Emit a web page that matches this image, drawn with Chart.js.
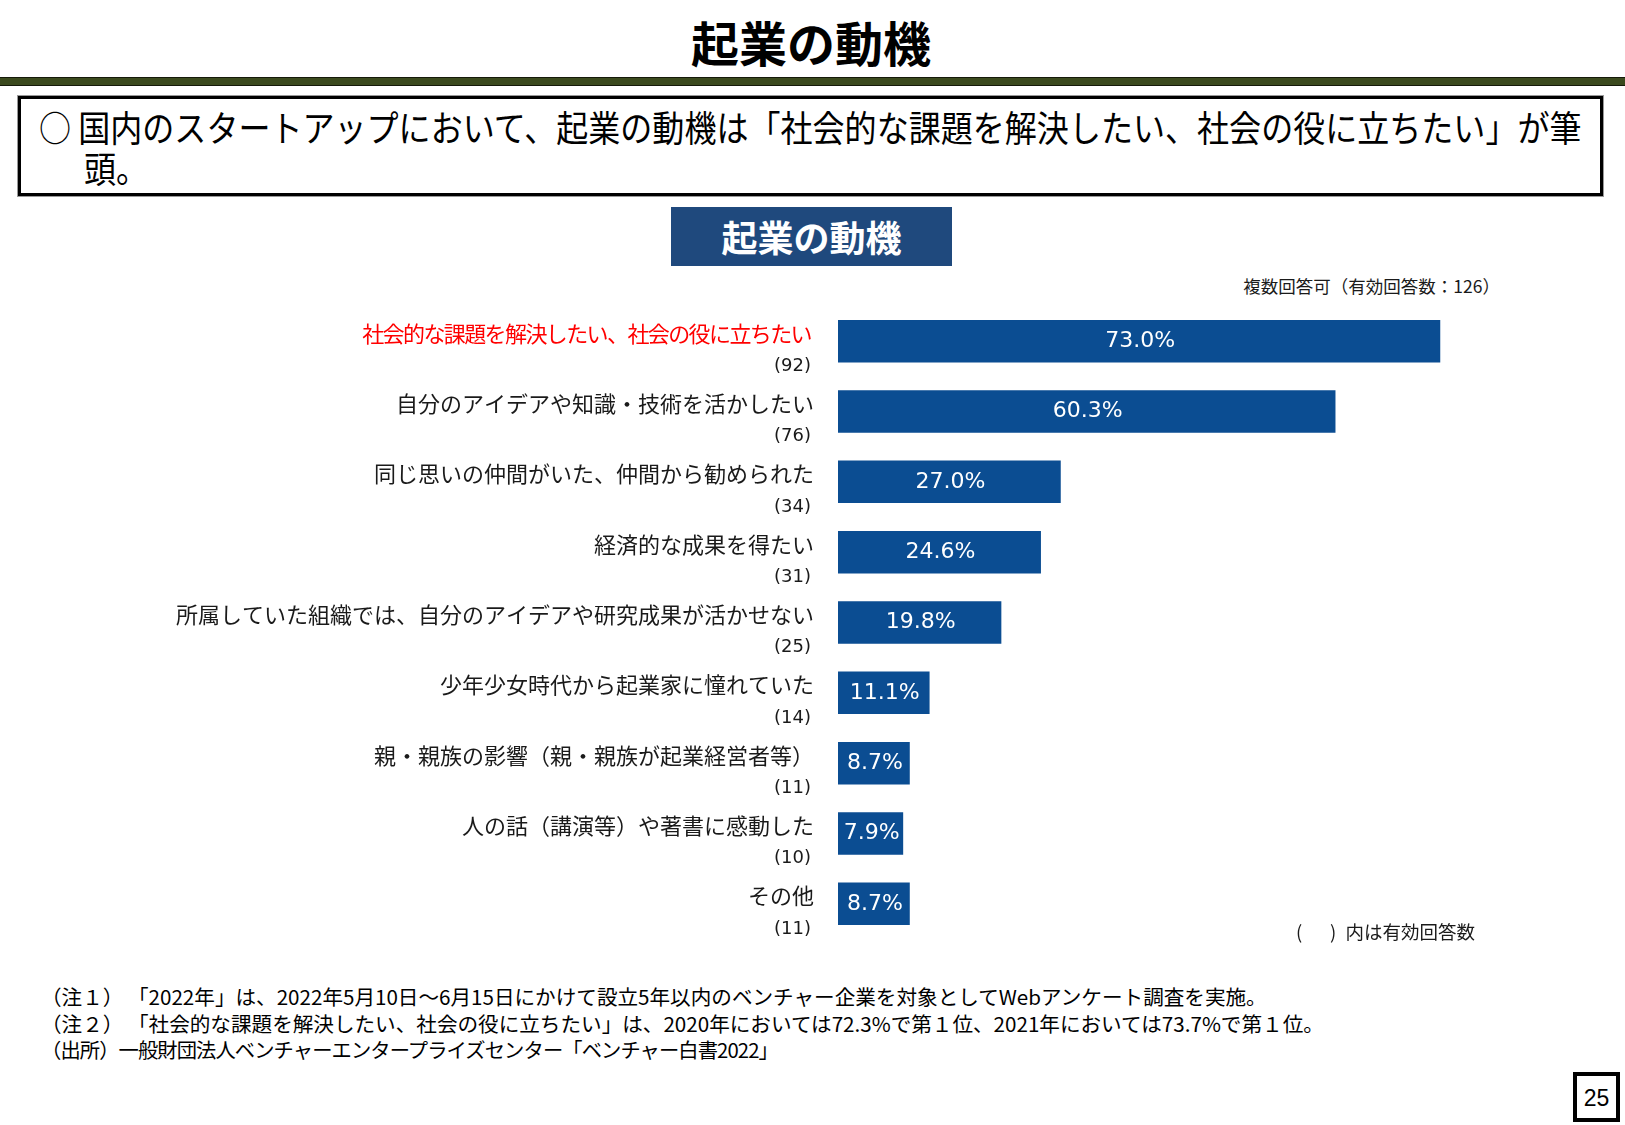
<!DOCTYPE html>
<html lang="ja">
<head>
<meta charset="UTF-8">
<title>起業の動機</title>
<script src="https://cdn.jsdelivr.net/npm/chart.js@4.4.0/dist/chart.umd.min.js"></script>
<style>
    body {
        margin: 0;
        background: #fff;
        font-family: 'Noto Sans CJK JP', 'Noto Sans', sans-serif;
        color: #1a1a1a;
    }
    #page {
        position: relative;
        width: 1625px;
        height: 1125px;
        overflow: hidden;
    }
    .abs { position: absolute; white-space: nowrap; }
    #title {
        left: 0; width: 1622px; top: 9px;
        text-align: center;
        font-size: 48px; font-weight: bold; line-height: 64px;
        color: #000;
    }
    #rule {
        left: 0; top: 77px; width: 1625px; height: 7px;
        background: #3b4a1e;
        border-top: 1px solid #151a0a;
        border-bottom: 1px solid #151a0a;
    }
    #lead {
        left: 18px; top: 96px; width: 1579px; height: 94px;
        border: 3px solid #000;
        box-shadow: 0 0 0 1px #999;
        font-size: 36px; line-height: 42px; color: #000;
    }
    #lead span {
        position: absolute;
        transform: scaleX(0.89);
        transform-origin: left center;
    }
    #lead .l1 { left: 18px; top: 6px; }
    #lead .l2 { left: 63px; top: 47px; }
    #subtitle {
        left: 671px; top: 207px; width: 281px; height: 59px;
        background: #1f497d; color: #fff;
        font-size: 36px; font-weight: bold;
        text-align: center; line-height: 58px;
    }
    #multi {
        right: 125px; top: 274px;
        font-size: 17.5px; line-height: 24px;
    }
    #chart-box {
        left: 0; top: 296px; width: 1625px; height: 650px;
    }
    #note-count {
        right: 150px; top: 918px;
        font-size: 18.5px; line-height: 26px;
    }
    .foot {
        left: 41px;
        font-size: 20.6px; line-height: 26px; color: #000;
    }
    #pageno {
        left: 1573px; top: 1072px; width: 39px; height: 42px;
        border: 4px solid #000;
        font-family: 'Liberation Sans', Arial, sans-serif;
        font-size: 23px; line-height: 44px; text-align: center; color: #000;
    }
</style>
</head>
<body>
<div id="page">
    <div id="title" class="abs">起業の動機</div>
    <div id="rule" class="abs"></div>
    <div id="lead" class="abs">
        <span class="l1">○ 国内のスタートアップにおいて、起業の動機は「社会的な課題を解決したい、社会の役に立ちたい」が筆</span>
        <span class="l2">頭。</span>
    </div>
    <div id="subtitle" class="abs">起業の動機</div>
    <div id="multi" class="abs">複数回答可（有効回答数：126）</div>
    <div id="chart-box" class="abs"><canvas id="chart"></canvas></div>
    <div id="note-count" class="abs">(&#x3000;&#x2002;)&#x2002;内は有効回答数</div>
    <div class="abs foot" style="top:983px">（注１） 「2022年」は、2022年5月10日～6月15日にかけて設立5年以内のベンチャー企業を対象としてWebアンケート調査を実施。</div>
    <div class="abs foot" style="top:1010px">（注２） 「社会的な課題を解決したい、社会の役に立ちたい」は、2020年においては72.3%で第１位、2021年においては73.7%で第１位。</div>
    <div class="abs foot" style="top:1036px; font-size:20.3px; letter-spacing:-0.9px">（出所）一般財団法人ベンチャーエンタープライズセンター「ベンチャー白書2022」</div>
    <div id="pageno" class="abs">25</div>
</div>
<script type="text/javascript">
    // 回答項目
    const categories = [
        '社会的な課題を解決したい、社会の役に立ちたい',
        '自分のアイデアや知識・技術を活かしたい',
        '同じ思いの仲間がいた、仲間から勧められた',
        '経済的な成果を得たい',
        '所属していた組織では、自分のアイデアや研究成果が活かせない',
        '少年少女時代から起業家に憧れていた',
        '親・親族の影響（親・親族が起業経営者等）',
        '人の話（講演等）や著書に感動した',
        'その他'
    ];
    // 有効回答数
    const counts = [92, 76, 34, 31, 25, 14, 11, 10, 11];
    // 割合（%）
    const shares = [73.0, 60.3, 27.0, 24.6, 19.8, 11.1, 8.7, 7.9, 8.7];

    const FONT = "'Noto Sans CJK JP', 'Noto Sans', sans-serif";
    const NUM_FONT = "'DejaVu Sans', 'Noto Sans', sans-serif";
    const BAR_COLOR = '#0b4d92';

    const labelsPlugin = {
        id: 'sideLabels',
        afterDatasetsDraw: (chart) => {
            const {ctx} = chart;
            const yScale = chart.scales.y;
            const meta = chart.getDatasetMeta(0);
            ctx.save();
            ctx.textBaseline = 'middle';

            // 左側の項目名と回答数
            ctx.textAlign = 'right';
            categories.forEach((name, i) => {
                const y = yScale.getPixelForValue(i);
                ctx.fillStyle = i === 0 ? '#ff0000' : '#1a1a1a';
                ctx.font = '22px ' + FONT;
                ctx.letterSpacing = i === 0 ? '-1.6px' : '0px';
                ctx.fillText(name, i === 0 ? 811 : 814, y - 8);
                ctx.letterSpacing = '0px';
                ctx.fillStyle = '#1a1a1a';
                ctx.font = '18px ' + NUM_FONT;
                ctx.fillText('(' + counts[i] + ')', 811, y + 25);
            });

            // バー内の値
            ctx.textAlign = 'center';
            ctx.fillStyle = '#ffffff';
            ctx.font = '22px ' + NUM_FONT;
            meta.data.forEach((bar, i) => {
                const cx = (bar.base + bar.x) / 2 + 1;
                ctx.fillText(shares[i].toFixed(1) + '%', cx, bar.y);
            });
            ctx.restore();
        }
    };

    const config = {
        type: 'bar',
        data: {
            labels: categories,
            datasets: [{
                data: shares,
                backgroundColor: BAR_COLOR,
                borderWidth: 0,
                categoryPercentage: 1.0,
                barPercentage: 0.605
            }]
        },
        options: {
            indexAxis: 'y',
            responsive: true,
            maintainAspectRatio: false,
            animation: false,
            layout: {
                padding: {left: 838, right: 127, top: 10, bottom: 7}
            },
            scales: {
                x: {display: false, min: 0, max: 80},
                y: {display: false}
            },
            plugins: {
                legend: {display: false},
                tooltip: {enabled: false}
            }
        },
        plugins: [labelsPlugin]
    };

    const canvas = document.getElementById('chart');
    let chart = new Chart(canvas, config);
</script>
</body>
</html>
